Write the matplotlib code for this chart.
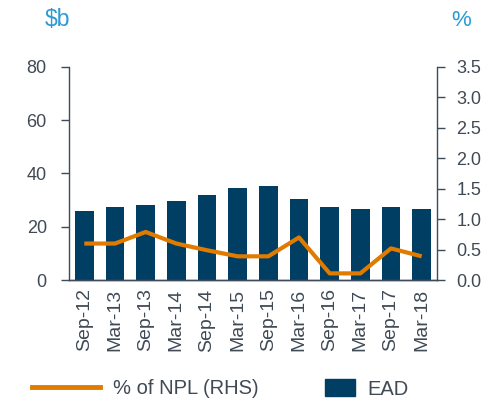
import matplotlib.pyplot as plt
from matplotlib.lines import Line2D
from matplotlib.patches import Patch

plt.rcParams['font.family'] = ['Liberation Sans', 'DejaVu Sans']

# 数据
periods = ['Sep-12', 'Mar-13', 'Sep-13', 'Mar-14', 'Sep-14', 'Mar-15',
           'Sep-15', 'Mar-16', 'Sep-16', 'Mar-17', 'Sep-17', 'Mar-18']
ead = [26.0, 27.5, 28.3, 29.7, 31.8, 34.6, 35.3, 30.3, 27.5, 26.8, 27.5, 26.8]
npl_pct = [0.60, 0.60, 0.79, 0.60, 0.49, 0.39, 0.39, 0.70, 0.11, 0.11, 0.52, 0.39]

bar_color = '#003F63'
line_color = '#E07B00'
text_color = '#404A55'
spine_color = '#3D4B5A'
unit_color = '#2A9AD6'

fig = plt.figure(figsize=(5.0, 4.03), dpi=100)
ax1 = fig.add_axes([0.138, 0.305, 0.736, 0.529])
ax2 = ax1.twinx()

x = list(range(len(periods)))
ax1.bar(x, ead, width=0.61, color=bar_color, zorder=2)
ax2.plot(x, npl_pct, color=line_color, linewidth=3.0, solid_capstyle='butt', zorder=3)

ax1.set_xlim(-0.5, len(periods) - 0.5)
ax1.set_ylim(0, 80)
ax1.set_yticks([0, 20, 40, 60, 80])
ax2.set_ylim(0, 3.5)
ax2.set_yticks([0, 0.5, 1.0, 1.5, 2.0, 2.5, 3.0, 3.5])
ax2.set_yticklabels([f'{v:.1f}' for v in ax2.get_yticks()])

ax1.set_xticks(x)
ax1.set_xticklabels(periods, rotation=90)

for ax in (ax1, ax2):
    ax.spines['top'].set_visible(False)
    for s in ('left', 'right', 'bottom'):
        ax.spines[s].set_color(spine_color)
        ax.spines[s].set_linewidth(1.0)
    ax.tick_params(axis='y', colors=spine_color, labelcolor=text_color,
                   labelsize=13, length=6, width=1.0)
ax1.tick_params(axis='y', pad=10)
ax2.tick_params(axis='y', pad=8)
ax2.spines['left'].set_visible(False)
ax1.spines['right'].set_visible(False)
ax1.tick_params(axis='x', length=0, labelsize=14, labelcolor=text_color, pad=6)

fig.text(0.09, 0.952, '$b', color=unit_color, fontsize=16.5, ha='left', va='center')
fig.text(0.903, 0.948, '%', color=unit_color, fontsize=16, ha='left', va='center')

# 图例
leg1 = fig.legend(handles=[Line2D([0], [0], color=line_color, linewidth=3.5)],
                  labels=['% of NPL (RHS)'], loc='center left',
                  bbox_to_anchor=(0.064, 0.035), frameon=False, fontsize=14.5,
                  handlelength=3.4, handletextpad=0.6, borderpad=0,
                  borderaxespad=0, labelcolor=text_color)
leg2 = fig.legend(handles=[Patch(color=bar_color)], labels=['EAD'],
                  loc='center left', bbox_to_anchor=(0.65, 0.035), frameon=False,
                  fontsize=14.5, handlelength=1.5, handleheight=0.95,
                  handletextpad=0.6, borderpad=0, borderaxespad=0,
                  labelcolor=text_color)

plt.savefig('out.png', dpi=100)
